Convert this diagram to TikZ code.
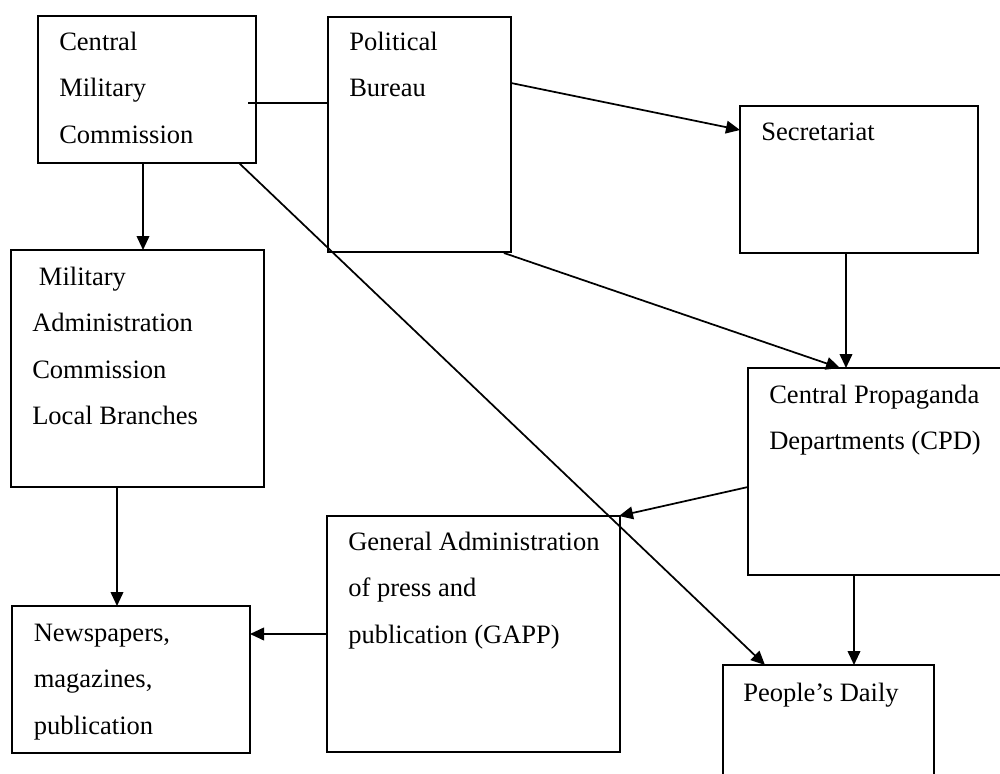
\documentclass[tikz,border=0pt]{standalone}
\usepackage{fontspec}
\setmainfont{Liberation Serif}
\usetikzlibrary{arrows.meta,fit,calc}
\newcommand{\boxtext}[1]{\parbox[t]{300pt}{\raggedright #1}}
\begin{document}
\begin{tikzpicture}[x=0.75pt,y=-0.75pt,
  box/.style={draw,line width=1.4pt,inner sep=0pt,outer sep=0pt},
  lbl/.style={anchor=base west,inner sep=0pt,font=\fontsize{19.9}{34.7}\selectfont},
  arr/.style={line width=1.3pt,-{Triangle[length=10.5pt,width=9.5pt]}},
  con/.style={line width=1.3pt}]
\clip (0,0) rectangle (1000,774);
\fill[white] (0,0) rectangle (1000,774);
% boxes
\node[box,fit={(38,16)(256,163)}] (cmc) {};
\node[box,fit={(328,17)(511,252)}] (pb) {};
\node[box,fit={(740,106)(978,253)}] (sec) {};
\node[box,fit={(11,250)(264,487)}] (maclb) {};
\node[box,fit={(748,368)(1010,575)}] (cpd) {};
\node[box,fit={(327,516)(620,752)}] (gapp) {};
\node[box,fit={(12,606)(250,753)}] (news) {};
\node[box,fit={(723,665)(934,790)}] (pd) {};
% labels
\node[lbl] (tcmc) at (59,50.5) {\boxtext{Central\\Military\\Commission}};
\node[lbl] (tpb) at (349,50.5) {\boxtext{Political\\Bureau}};
\node[lbl] (tsec) at (761,140) {\boxtext{Secretariat}};
\node[lbl] (tmaclb) at (32,285.5) {\boxtext{\hspace*{5pt}Military\\Administration\\Commission\\Local Branches}};
\node[lbl] (tcpd) at (769,403.5) {\boxtext{Central Propaganda\\Departments (CPD)}};
\node[lbl] (tgapp) at (348,550.5) {\boxtext{General Administration\\of press and\\publication (GAPP)}};
\node[lbl] (tnews) at (33.5,641.5) {\boxtext{Newspapers,\\magazines,\\publication}};
\node[lbl] (tpd) at (743,701) {\boxtext{People’s Daily}};
% helper coordinates
\coordinate (xa) at (143,0);
\coordinate (xb) at (846,0);
\coordinate (xc) at (854,0);
\coordinate (xd) at (117,0);
\coordinate (yc) at (0,634);
\coordinate (l1) at (248,103);
% connectors
\draw[con] (l1) -- (l1 -| pb.west);
\draw[arr] (cmc.south -| xa) -- (maclb.north -| xa);
\draw[arr] ($(pb.north east)+(0,66)$) -- ($(sec.north west)+(0,24)$);
\draw[arr] ($(pb.south east)+(-7,1)$) -- ($(cpd.north west)+(92,0)$);
\draw[arr] (sec.south -| xb) -- (cpd.north -| xb);
\draw[arr] ($(cmc.south east)+(-17,0)$) -- ($(pd.north west)+(42,0)$);
\draw[arr] ($(cpd.north west)+(0,119)$) -- ($(gapp.north east)+(-1,0)$);
\draw[arr] (cpd.south -| xc) -- (pd.north -| xc);
\draw[arr] (maclb.south -| xd) -- (news.north -| xd);
\draw[arr] (gapp.west |- yc) -- (news.east |- yc);
\end{tikzpicture}
\end{document}
